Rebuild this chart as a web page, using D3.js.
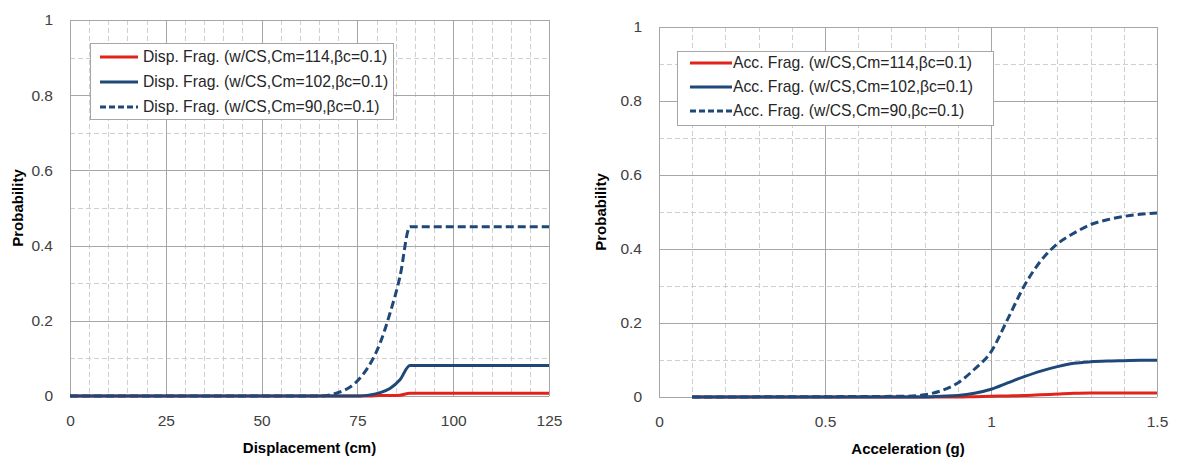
<!DOCTYPE html>
<html>
<head>
<meta charset="utf-8">
<script src="https://cdn.jsdelivr.net/npm/d3@7"></script>
<style>
  html, body { margin: 0; padding: 0; background: #fff; }
  svg { display: block; font-family: "Liberation Sans", Arial, sans-serif; }
</style>
</head>
<body>
<svg id="chart" width="1177" height="461"></svg>
<script>
// ---------- Data ----------
const dispX      = [0, 65, 67.8, 70.5, 73.1, 75.7, 78.3, 80.9, 83.5, 86.1, 88.7, 125];
const disp114    = [0, 0, 0, 0, 0, 0, 0, 0.001, 0.001, 0.002, 0.007, 0.007];
const disp102    = [0, 0, 0, 0, 0, 0, 0.003, 0.009, 0.02, 0.043, 0.081, 0.081];
const disp90     = [0, 0, 0.003, 0.011, 0.024, 0.048, 0.085, 0.14, 0.22, 0.317, 0.45, 0.45];

const accX       = [0.1, 0.75, 0.8, 0.85, 0.9, 0.95, 1.0, 1.05, 1.1, 1.15, 1.2, 1.25, 1.3, 1.35, 1.4, 1.45, 1.5];
const acc114     = [0, 0, 0, 0, 0, 0.001, 0.002, 0.003, 0.004, 0.006, 0.008, 0.01, 0.011, 0.011, 0.011, 0.011, 0.011];
const acc102     = [0, 0, 0, 0.002, 0.004, 0.01, 0.021, 0.038, 0.055, 0.07, 0.082, 0.091, 0.095, 0.097, 0.098, 0.099, 0.099];
const acc90      = [0, 0.002, 0.006, 0.017, 0.038, 0.075, 0.122, 0.21, 0.30, 0.368, 0.414, 0.443, 0.466, 0.479, 0.488, 0.494, 0.497];

const dispTicks  = [0, 25, 50, 75, 100, 125];
const accTicks   = [0, 0.5, 1, 1.5];
const probTicks  = [0, 0.2, 0.4, 0.6, 0.8, 1];

const dispLabels = ["Disp. Frag. (w/CS,Cm=114,βc=0.1)", "Disp. Frag. (w/CS,Cm=102,βc=0.1)", "Disp. Frag. (w/CS,Cm=90,βc=0.1)"];
const accLabels  = ["Acc. Frag. (w/CS,Cm=114,βc=0.1)", "Acc. Frag. (w/CS,Cm=102,βc=0.1)", "Acc. Frag. (w/CS,Cm=90,βc=0.1)"];
const xTitles    = ["Displacement (cm)", "Acceleration (g)"];
const yTitle     = "Probability";

// ---------- Styles ----------
const RED = "#e2231a", BLUE = "#1f4878";
const seriesStyle = [
  { color: RED,  dash: null },
  { color: BLUE, dash: null },
  { color: BLUE, dash: "8,4" }
];

const svg = d3.select("#chart");

function drawPanel(cfg) {
  const g = svg.append("g");
  const x = d3.scaleLinear().domain(cfg.xDomain).range([cfg.left, cfg.right]);
  const y = d3.scaleLinear().domain([0, 1]).range([cfg.bottom, cfg.top]);

  // minor grid (dashed)
  const xMinor = d3.range(cfg.xDomain[0], cfg.xDomain[1] + cfg.xMinorStep / 2, cfg.xMinorStep)
    .filter(v => !cfg.xTicks.some(t => Math.abs(t - v) < 1e-9));
  const yMinor = d3.range(0, 1.0001, 0.1).filter(v => !probTicks.some(t => Math.abs(t - v) < 1e-9));
  g.selectAll(".vminor").data(xMinor).enter().append("line")
    .attr("x1", d => Math.round(x(d)) + 0.5).attr("x2", d => Math.round(x(d)) + 0.5)
    .attr("y1", cfg.top).attr("y2", cfg.bottom)
    .attr("stroke", "#cfcfcf").attr("stroke-width", 1).attr("stroke-dasharray", "5,3");
  g.selectAll(".hminor").data(yMinor).enter().append("line")
    .attr("y1", d => Math.round(y(d)) + 0.5).attr("y2", d => Math.round(y(d)) + 0.5)
    .attr("x1", cfg.left).attr("x2", cfg.right)
    .attr("stroke", "#cfcfcf").attr("stroke-width", 1).attr("stroke-dasharray", "5,3");

  // major grid
  g.selectAll(".vmajor").data(cfg.xTicks).enter().append("line")
    .attr("x1", d => Math.round(x(d)) + 0.5).attr("x2", d => Math.round(x(d)) + 0.5)
    .attr("y1", cfg.top).attr("y2", cfg.bottom)
    .attr("stroke", "#a6a6a6").attr("stroke-width", 1);
  g.selectAll(".hmajor").data(probTicks).enter().append("line")
    .attr("y1", d => Math.round(y(d)) + 0.5).attr("y2", d => Math.round(y(d)) + 0.5)
    .attr("x1", cfg.left).attr("x2", cfg.right)
    .attr("stroke", "#a6a6a6").attr("stroke-width", 1);

  // axes (labels only)
  const xAxis = d3.axisBottom(x).tickValues(cfg.xTicks).tickSize(0).tickPadding(19)
    .tickFormat(d3.format("~g"));
  const gx = g.append("g").attr("transform", `translate(0,${cfg.bottom})`).call(xAxis);
  gx.select(".domain").remove();
  gx.selectAll("text").attr("font-size", 15.5).attr("fill", "#404040")
    .attr("font-family", "Liberation Sans, Arial, sans-serif");

  const yAxis = d3.axisLeft(y).tickValues(probTicks).tickSize(0).tickPadding(17)
    .tickFormat(d3.format("~g"));
  const gy = g.append("g").attr("transform", `translate(${cfg.left},0)`).call(yAxis);
  gy.select(".domain").remove();
  gy.selectAll("text").attr("font-size", 15.5).attr("fill", "#404040")
    .attr("font-family", "Liberation Sans, Arial, sans-serif");

  // titles
  g.append("text").attr("x", (cfg.left + cfg.right) / 2).attr("y", cfg.bottom + 57)
    .attr("text-anchor", "middle").attr("font-size", 15).attr("font-weight", "bold")
    .attr("fill", "#000").text(cfg.xTitle);
  g.append("text")
    .attr("transform", `translate(${cfg.yTitleX},${(cfg.top + cfg.bottom) / 2}) rotate(-90)`)
    .attr("text-anchor", "middle").attr("font-size", 15).attr("font-weight", "bold")
    .attr("fill", "#000").text(yTitle);

  // lines
  const line = d3.line().x(d => x(d[0])).y(d => y(d[1])).curve(d3.curveMonotoneX);
  cfg.series.forEach((s, i) => {
    const pts = cfg.xs.map((v, k) => [v, s[k]]);
    g.append("path").datum(pts).attr("d", line)
      .attr("fill", "none").attr("stroke", seriesStyle[i].color).attr("stroke-width", 3)
      .attr("stroke-dasharray", seriesStyle[i].dash);
  });

  // legend
  const L = cfg.legend;
  const lg = g.append("g");
  lg.append("rect").attr("x", L.x + 0.5).attr("y", L.y + 0.5).attr("width", L.w).attr("height", L.h)
    .attr("fill", "#fff").attr("stroke", "#a6a6a6").attr("stroke-width", 1);
  cfg.labels.forEach((lab, i) => {
    const cy = L.y + L.row0 + i * L.rowH;
    lg.append("line").attr("x1", L.x + L.s0).attr("x2", L.x + L.s1)
      .attr("y1", cy).attr("y2", cy)
      .attr("stroke", seriesStyle[i].color).attr("stroke-width", 3)
      .attr("stroke-dasharray", seriesStyle[i].dash ? "6,3" : null);
    lg.append("text").attr("x", L.x + L.tx).attr("y", cy).attr("dy", "0.35em")
      .attr("font-size", 15.7).attr("fill", "#262626").text(lab);
  });
}

drawPanel({
  xDomain: [0, 125], xTicks: dispTicks, xMinorStep: 5,
  left: 70, right: 549, top: 20, bottom: 396,
  xTitle: xTitles[0], yTitleX: 23,
  xs: dispX, series: [disp114, disp102, disp90], labels: dispLabels,
  legend: { x: 90, y: 43, w: 303, h: 76, row0: 14, rowH: 25, s0: 10, s1: 48, tx: 53 }
});

drawPanel({
  xDomain: [0, 1.5], xTicks: accTicks, xMinorStep: 0.1,
  left: 659, right: 1157, top: 27, bottom: 397,
  xTitle: xTitles[1], yTitleX: 606,
  xs: accX, series: [acc114, acc102, acc90], labels: accLabels,
  legend: { x: 677, y: 51, w: 316, h: 74, row0: 12, rowH: 24, s0: 13, s1: 55, tx: 56 }
});
</script>
</body>
</html>
